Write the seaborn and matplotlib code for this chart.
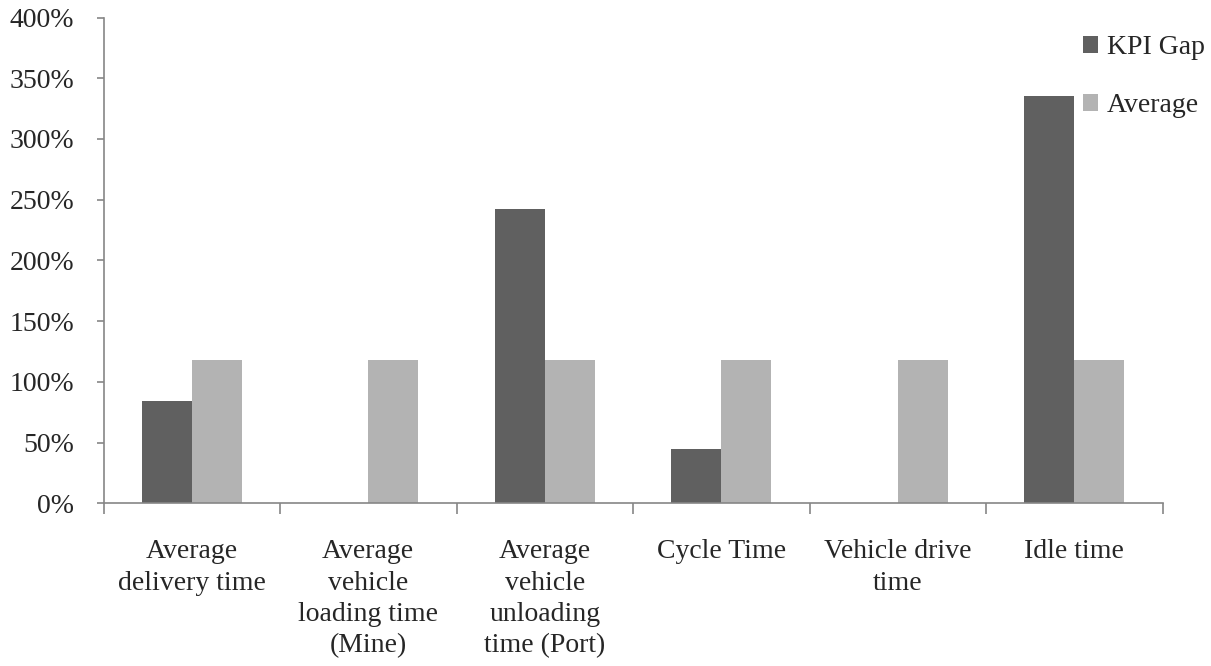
import matplotlib
matplotlib.use("Agg")
import matplotlib.pyplot as plt
import seaborn as sns
import pandas as pd
from matplotlib.ticker import FixedLocator, PercentFormatter

categories = [
    "Average\ndelivery time",
    "Average\nvehicle\nloading time\n(Mine)",
    "Average\nvehicle\nunloading\ntime (Port)",
    "Cycle Time",
    "Vehicle drive\ntime",
    "Idle time",
]
kpi_gap = [84, 0, 242, 45, 0, 335]
average = [118, 118, 118, 118, 118, 118]
series_names = ["KPI Gap", "Average"]
colors = ["#606060", "#b3b3b3"]

df = pd.DataFrame({
    "category": categories * 2,
    "series": [series_names[0]] * len(categories) + [series_names[1]] * len(categories),
    "value": kpi_gap + average,
})

sns.set_style("white")
plt.rcParams["font.family"] = ["Liberation Serif", "DejaVu Serif"]

fig = plt.figure(figsize=(12.11, 6.66), dpi=100)
ax = fig.add_axes([0.0855, 0.2443, 0.960 - 0.0855, 0.9737 - 0.2443])

sns.barplot(data=df, x="category", y="value", hue="series", order=categories,
            hue_order=series_names, palette=colors, width=0.565, gap=0,
            linewidth=0, saturation=1, ax=ax, errorbar=None)

ax.set_xlim(-0.5, len(categories) - 0.5)
ax.set_ylim(0, 400)
ax.set_yticks(range(0, 401, 50))
ax.yaxis.set_major_formatter(PercentFormatter(decimals=0))
ax.set_xlabel("")
ax.set_ylabel("")

spine_col = "#868686"
for s in ["top", "right"]:
    ax.spines[s].set_visible(False)
for s in ["left", "bottom"]:
    ax.spines[s].set_color(spine_col)
    ax.spines[s].set_linewidth(1.2)

ax.tick_params(axis="y", direction="out", length=5, width=1.2, color=spine_col,
               labelsize=20, pad=16, left=True)
ax.tick_params(axis="x", which="major", length=0, labelsize=20, pad=26)
ax.xaxis.set_minor_locator(FixedLocator([i - 0.5 for i in range(len(categories) + 1)]))
ax.tick_params(axis="x", which="minor", direction="out", length=8, width=1.2,
               color=spine_col, bottom=True)
for lab in ax.get_xticklabels():
    lab.set_linespacing(1.33)
    lab.set_verticalalignment("top")

ax.legend(loc="upper left", bbox_to_anchor=(1083 / 1211, 1 - 35 / 666),
          bbox_transform=fig.transFigure, frameon=False, fontsize=20,
          handlelength=0.55, handleheight=0.55, handletextpad=0.3,
          labelspacing=1.2, borderpad=0, borderaxespad=0)

fig.savefig("out.png", dpi=100)
